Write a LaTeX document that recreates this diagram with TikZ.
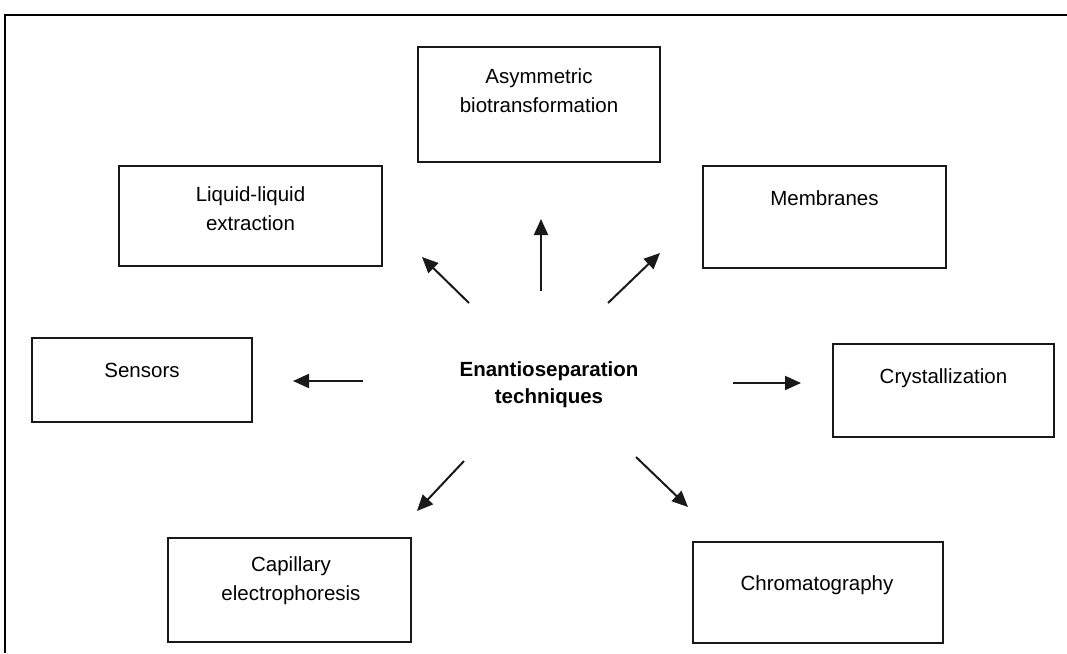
\documentclass[tikz,border=0pt]{standalone}
\usepackage{fontspec}
\setmainfont{Liberation Sans}
\usetikzlibrary{arrows.meta}
\begin{document}
\begin{tikzpicture}[x=1pt,y=-1pt,
  box/.style={draw=black!90, line width=2pt, minimum width=#1, inner sep=0pt},
  lbl/.style={align=center, inner sep=0pt, font=\fontsize{20.5}{29}\selectfont, text=black},
  arr/.style={line width=2pt, draw=black!90, -{Triangle[length=16pt,width=14pt]}},
  frame/.style={line width=2.5pt, draw=black}]
\useasboundingbox[fill=white] (0,0) rectangle (1067,653);
% frame
\coordinate (ftl) at (5,15);
\coordinate (ftr) at (1067,15);
\coordinate (fbl) at (5,653);
\draw[frame] (ftr) -- (ftl) -- (fbl);
% boxes
\node[box=242pt, minimum height=115pt] (asym) at (539,104.5) {};
\node[box=263pt, minimum height=100pt] (liq) at (250.5,216) {};
\node[box=243pt, minimum height=102pt] (mem) at (824.5,217) {};
\node[box=220pt, minimum height=84pt] (sens) at (142,380) {};
\node[box=221pt, minimum height=93pt] (cryst) at (943.5,390.5) {};
\node[box=243pt, minimum height=104pt] (cap) at (289.5,590) {};
\node[box=250pt, minimum height=101pt] (chrom) at (818,592.5) {};
% labels
\node[lbl] (asymt) at (539,90.5) {Asymmetric\\biotransformation};
\node[lbl] (liqt) at (250.5,208.5) {Liquid-liquid\\extraction};
\node[lbl, anchor=base] (memt) at (824.5,205) {Membranes};
\node[lbl, anchor=base] (senst) at (142,377) {Sensors};
\node[lbl, anchor=base] (crystt) at (943.5,383) {Crystallization};
\node[lbl] (capt) at (291,581) {Capillary\\electrophoresis};
\node[lbl, anchor=base] (chromt) at (817,590) {Chromatography};
\node[lbl, font=\fontsize{20.5}{27}\selectfont\bfseries] (main) at (549,385) {Enantioseparation\\techniques};
% arrow end points
\coordinate (nw0) at (469,303); \coordinate (nw1) at (422,257);
\coordinate (n0) at (541,291);  \coordinate (n1) at (541,219);
\coordinate (ne0) at (608,303); \coordinate (ne1) at (660,253);
\coordinate (w0) at (363,381);  \coordinate (w1) at (293,381);
\coordinate (e0) at (733,383);  \coordinate (e1) at (801,383);
\coordinate (sw0) at (464,461); \coordinate (sw1) at (417,511);
\coordinate (se0) at (636,457); \coordinate (se1) at (688,507);
\draw[arr] (nw0) -- (nw1);
\draw[arr] (n0) -- (n1);
\draw[arr] (ne0) -- (ne1);
\draw[arr] (w0) -- (w1);
\draw[arr] (e0) -- (e1);
\draw[arr] (sw0) -- (sw1);
\draw[arr] (se0) -- (se1);
\end{tikzpicture}
\end{document}
